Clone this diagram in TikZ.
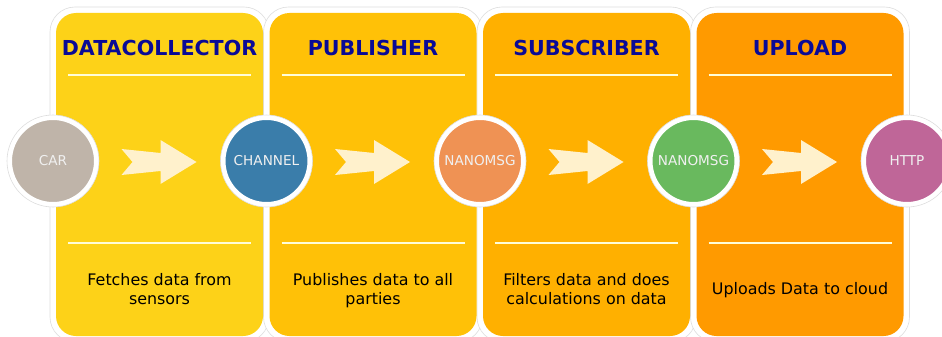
\documentclass[tikz,border=0pt]{standalone}
\usepackage{fontspec}
\setmainfont{DejaVu Sans}
\definecolor{pA}{HTML}{FDD218}
\definecolor{pB}{HTML}{FFC107}
\definecolor{pC}{HTML}{FFB000}
\definecolor{pD}{HTML}{FF9A00}
\definecolor{cCar}{HTML}{BFB4A9}
\definecolor{cChan}{HTML}{3A7DAA}
\definecolor{cNanoA}{HTML}{EF9254}
\definecolor{cNanoB}{HTML}{69B95E}
\definecolor{cHttp}{HTML}{BF6698}
\definecolor{ttl}{HTML}{0A0A96}
\definecolor{arw}{HTML}{FFF1CC}
\definecolor{rim}{HTML}{DDDDDD}
\tikzset{
  panelbg/.style={fill=white, draw=rim, line width=0.6pt, rounded corners=25pt},
  panelfg/.style={rounded corners=20pt},
  sep/.style={draw=white!85!yellow, line width=1.2pt},
  ttlnode/.style={font=\fontsize{20.6}{23}\selectfont\bfseries, text=ttl, inner sep=0pt},
  bodynode/.style={font=\fontsize{15.9}{19}\selectfont, text=black, align=center, inner sep=0pt},
  hub/.style={circle, minimum size=86pt, inner sep=0pt, draw=white, line width=4pt, font=\fontsize{13.6}{16}\selectfont, text=white!94!black},
  hubrim/.style={circle, minimum size=92pt, inner sep=0pt, fill=white, draw=rim, line width=0.6pt},
  flowarrow/.style={fill=arw}
}
\begin{document}
\begin{tikzpicture}[x=1pt,y=-1pt]
\useasboundingbox (0,0) rectangle (942,337);
\fill[white] (0,0) rectangle (942,337);
% panels
\foreach \i/\col/\ttltext/\nm in {0/pA/DATACOLLECTOR/pa,1/pB/PUBLISHER/pb,2/pC/SUBSCRIBER/pc,3/pD/UPLOAD/pd}{
  \pgfmathsetmacro{\L}{56+213.5*\i}
  \pgfmathsetmacro{\R}{\L+207}
  \pgfmathsetmacro{\C}{\L+103.5}
  \path[panelbg] (\L-6,7) rectangle (\R+6,342);
}
\foreach \i/\col/\ttltext/\nm in {0/pA/DATACOLLECTOR/pa,1/pB/PUBLISHER/pb,2/pC/SUBSCRIBER/pc,3/pD/UPLOAD/pd}{
  \pgfmathsetmacro{\L}{56+213.5*\i}
  \pgfmathsetmacro{\R}{\L+207}
  \pgfmathsetmacro{\C}{\L+103.5}
  \path[panelfg, fill=\col] (\L,13) rectangle (\R,336);
  \node[ttlnode] (t\nm) at (\C,48.5) {\ttltext};
  \coordinate (la\nm) at (\L+12,75);
  \coordinate (ra\nm) at (\R-12,75);
  \coordinate (lb\nm) at (\L+12,243);
  \coordinate (rb\nm) at (\R-12,243);
  \draw[sep] (la\nm) -- (ra\nm);
  \draw[sep] (lb\nm) -- (rb\nm);
  % arrow
  \begin{scope}[shift={(\C,162)}]
    \fill[flowarrow] (-38,-13) -- (1,-9) -- (1,-22) -- (37,0) -- (1,22) -- (1,9) -- (-38,13) -- (-27,0) -- cycle;
  \end{scope}
}
\node[bodynode] (ba) at (159.5,291.2) {\strut Fetches data from\\\strut sensors};
\node[bodynode] (bb) at (373,291.2) {\strut Publishes data to all\\\strut parties};
\node[bodynode] (bc) at (586.5,291.2) {\strut Filters data and does\\\strut calculations on data};
\node[bodynode] (bd) at (800,290.5) {\strut Uploads Data to cloud};
% hubs
\foreach \x/\col/\lbl/\nm in {53/cCar/CAR/car,266.5/cChan/CHANNEL/chan,480/cNanoA/NANOMSG/nanoa,693.5/cNanoB/NANOMSG/nanob,907/cHttp/HTTP/http}{
  \node[hubrim] (r\nm) at (\x,161) {};
  \node[hub, fill=\col] (\nm) at (\x,161) {\lbl};
}
\end{tikzpicture}
\end{document}
